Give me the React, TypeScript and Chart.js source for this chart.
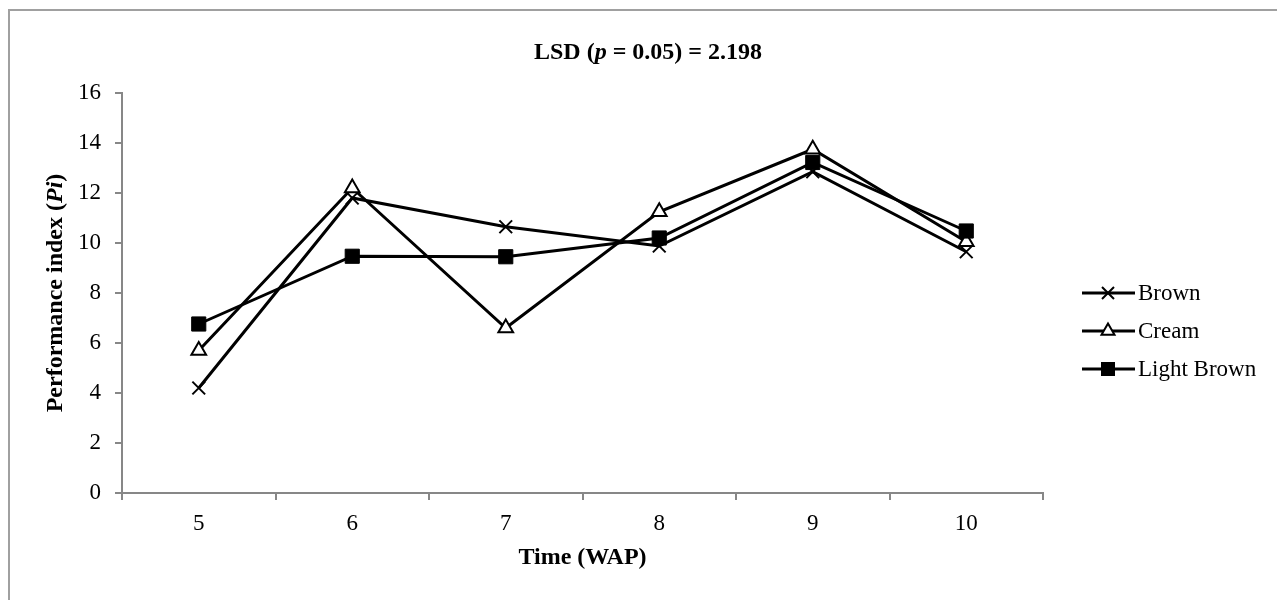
import React, { useEffect, useRef } from "react";
import { Chart, registerables } from "chart.js";

Chart.register(...registerables);

const categories = ["5", "6", "7", "8", "9", "10"];
const brownValues = [4.2, 11.8, 10.65, 9.88, 12.85, 9.65];
const creamValues = [5.7, 12.2, 6.6, 11.25, 13.75, 10.05];
const lightBrownValues = [6.76, 9.47, 9.45, 10.2, 13.22, 10.48];
const seriesNames = ["Brown", "Cream", "Light Brown"];
const yTicks = [0, 2, 4, 6, 8, 10, 12, 14, 16];

const FONT = "'Liberation Serif', 'Times New Roman', serif";
const FS = 23;
const TITLE_FS = 24;
const AXIS_COLOR = "#878787";

type Seg = { t: string; i?: boolean };

function drawSegs(ctx: CanvasRenderingContext2D, segs: Seg[], x: number, y: number, bold: boolean, rot: number) {
  ctx.save();
  ctx.translate(x, y);
  ctx.rotate(rot);
  ctx.fillStyle = "#000";
  ctx.textBaseline = "middle";
  ctx.textAlign = "left";
  const fontOf = (s: Seg) => `${s.i ? "italic " : ""}${bold ? "bold " : ""}${TITLE_FS}px ${FONT}`;
  let total = 0;
  for (const s of segs) {
    ctx.font = fontOf(s);
    total += ctx.measureText(s.t).width;
  }
  let cx = -total / 2;
  for (const s of segs) {
    ctx.font = fontOf(s);
    ctx.fillText(s.t, cx, 0);
    cx += ctx.measureText(s.t).width;
  }
  ctx.restore();
}

function drawMarker(ctx: CanvasRenderingContext2D, kind: string, x: number, y: number) {
  ctx.save();
  ctx.strokeStyle = "#000";
  ctx.fillStyle = "#000";
  if (kind === "cross") {
    const r = 6;
    ctx.lineWidth = 2;
    ctx.beginPath();
    ctx.moveTo(x - r, y - r);
    ctx.lineTo(x + r, y + r);
    ctx.moveTo(x - r, y + r);
    ctx.lineTo(x + r, y - r);
    ctx.stroke();
  } else if (kind === "triangle") {
    const r = 7.5;
    ctx.lineWidth = 2;
    ctx.beginPath();
    ctx.moveTo(x, y - r);
    ctx.lineTo(x + r * 0.866, y + r * 0.5);
    ctx.lineTo(x - r * 0.866, y + r * 0.5);
    ctx.closePath();
    ctx.fillStyle = "#fff";
    ctx.fill();
    ctx.stroke();
  } else {
    const h = 7;
    ctx.fillRect(x - h, y - h, 2 * h, 2 * h);
  }
  ctx.restore();
}

const decorPlugin = {
  id: "decor",
  beforeDraw(chart: any) {
    const ctx = chart.ctx as CanvasRenderingContext2D;
    ctx.save();
    ctx.fillStyle = "#fff";
    ctx.fillRect(0, 0, chart.width, chart.height);
    ctx.strokeStyle = "#a0a0a0";
    ctx.lineWidth = 2;
    ctx.beginPath();
    ctx.moveTo(9, chart.height);
    ctx.lineTo(9, 10);
    ctx.lineTo(chart.width, 10);
    ctx.stroke();
    ctx.restore();
  },
  afterDraw(chart: any) {
    const ctx = chart.ctx as CanvasRenderingContext2D;
    const area = chart.chartArea;
    drawSegs(ctx, [{ t: "LSD (" }, { t: "p", i: true }, { t: " = 0.05) = 2.198" }], 648, 53, true, 0);
    drawSegs(ctx, [{ t: "Time (WAP)" }], (area.left + area.right) / 2, 558, true, 0);
    drawSegs(ctx, [{ t: "Performance index (" }, { t: "Pi", i: true }, { t: ")" }], 56, (area.top + area.bottom) / 2, true, -Math.PI / 2);
    const kinds = ["cross", "triangle", "square"];
    const ys = [293, 331, 369];
    chart.data.datasets.forEach((ds: any, i: number) => {
      const y = ys[i];
      ctx.save();
      ctx.strokeStyle = "#000";
      ctx.lineWidth = 3;
      ctx.beginPath();
      ctx.moveTo(1082, y);
      ctx.lineTo(1135, y);
      ctx.stroke();
      ctx.restore();
      drawMarker(ctx, kinds[i], 1108, y);
      ctx.save();
      ctx.fillStyle = "#000";
      ctx.font = `${FS}px ${FONT}`;
      ctx.textBaseline = "middle";
      ctx.textAlign = "left";
      ctx.fillText(ds.label, 1138, y + 1);
      ctx.restore();
    });
  },
};

export default function App() {
  const ref = useRef<HTMLCanvasElement | null>(null);
  useEffect(() => {
    if (!ref.current) return;
    const chart = new Chart(ref.current, {
      type: "line",
      data: {
        labels: categories,
        datasets: [
          {
            label: seriesNames[0],
            data: brownValues,
            borderColor: "#000",
            borderWidth: 3,
            pointStyle: "crossRot",
            pointRadius: 9,
            pointBorderWidth: 2,
            pointBorderColor: "#000",
            pointBackgroundColor: "#000",
            tension: 0,
            order: 2,
          },
          {
            label: seriesNames[1],
            data: creamValues,
            borderColor: "#000",
            borderWidth: 3,
            pointStyle: "triangle",
            pointRadius: 8.5,
            pointBorderWidth: 2,
            pointBorderColor: "#000",
            pointBackgroundColor: "#fff",
            tension: 0,
            order: 1,
          },
          {
            label: seriesNames[2],
            data: lightBrownValues,
            borderColor: "#000",
            borderWidth: 3,
            pointStyle: "rect",
            pointRadius: 10,
            pointBorderWidth: 1,
            pointBorderColor: "#000",
            pointBackgroundColor: "#000",
            tension: 0,
            order: 0,
          },
        ],
      },
      options: {
        responsive: false,
        animation: false,
        devicePixelRatio: 1,
        layout: { padding: { top: 93, right: 234, bottom: 0, left: 0 } },
        plugins: {
          legend: { display: false },
          title: { display: false },
          tooltip: { enabled: false },
        },
        scales: {
          x: {
            type: "category",
            offset: true,
            afterFit: (s: any) => {
              s.height = 107;
            },
            grid: {
              offset: true,
              drawOnChartArea: false,
              drawTicks: true,
              tickLength: 7,
              color: AXIS_COLOR,
              lineWidth: 2,
            },
            border: { display: true, color: AXIS_COLOR, width: 2 },
            ticks: {
              color: "#000",
              font: { family: FONT, size: FS },
              padding: 10,
              maxRotation: 0,
            },
          },
          y: {
            min: 0,
            max: 16,
            afterFit: (s: any) => {
              s.width = 122;
            },
            afterBuildTicks: (s: any) => {
              s.ticks = yTicks.map((v) => ({ value: v }));
            },
            grid: {
              drawOnChartArea: false,
              drawTicks: true,
              tickLength: 7,
              color: AXIS_COLOR,
              lineWidth: 2,
            },
            border: { display: true, color: AXIS_COLOR, width: 2 },
            ticks: {
              color: "#000",
              font: { family: FONT, size: FS },
              padding: 14,
              stepSize: 2,
            },
          },
        },
      },
      plugins: [decorPlugin],
    });
    return () => chart.destroy();
  }, []);
  return (
    <div style={{ position: "fixed", left: 0, top: 0, width: 1277, height: 600, background: "#fff" }}>
      <canvas ref={ref} width={1277} height={600} style={{ display: "block", width: 1277, height: 600 }} />
    </div>
  );
}
